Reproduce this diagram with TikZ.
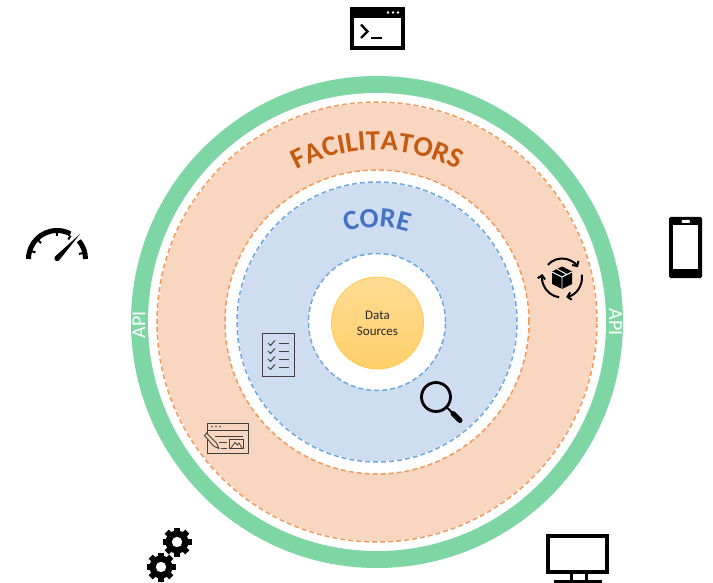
\documentclass[tikz,border=0pt]{standalone}
\usepackage{fontspec}
\setmainfont{Carlito}
\usetikzlibrary{arrows.meta,decorations.text,calc}
\definecolor{ringgreen}{HTML}{7FD6A5}
\definecolor{facfill}{HTML}{F8D6BF}
\definecolor{facline}{HTML}{F09A5E}
\definecolor{facText}{HTML}{C55A11}
\definecolor{corefill}{HTML}{CFDDF1}
\definecolor{coreline}{HTML}{6FA8DC}
\definecolor{coreText}{HTML}{4472C4}
\definecolor{iconline}{HTML}{404040}
\definecolor{datatop}{HTML}{FFDB94}
\definecolor{databot}{HTML}{FFCF68}
\definecolor{dataline}{HTML}{FFC94F}
\tikzset{
  ring/.style={circle,inner sep=0pt,outer sep=0pt,minimum size=#1},
  dashline/.style={dash pattern=on 5pt off 3pt,line width=1.5pt},
  apilabel/.style={text=white,font=\fontsize{20}{20}\selectfont,inner sep=0pt},
  thinicon/.style={draw=iconline,line width=1pt},
  gearpic/.pic={
    \fill[black] (0,0) circle[radius=11.5];
    \foreach \a in {0,45,...,315}
      \draw[black,line width=6pt] (\a:10) -- (\a:14.5);
    \fill[white] (0,0) circle[radius=5.2];
  }
}
\begin{document}
\begin{tikzpicture}[x=1pt,y=-1pt]
\useasboundingbox[fill=white] (0,0) rectangle (713,583);
\coordinate (c) at (377,322);
% rings
\node[ring=492,fill=ringgreen] (outer) at (c) {};
\node[ring=458,fill=white] (gap) at (c) {};
\node[ring=440,fill=facfill,draw=white,line width=1.5pt] (facbase) at (c) {};
\node[ring=440,draw=facline,dashline] (fac) at (c) {};
\node[ring=304,fill=white,draw=facline,dashline] (facinner) at (c) {};
\node[ring=280,fill=corefill,draw=white,line width=1.5pt] (corebase) at (c) {};
\node[ring=280,draw=coreline,dashline] (core) at (c) {};
\node[ring=137,fill=white,draw=coreline,dashline] (coreinner) at (c) {};
\node[ring=92,top color=datatop,bottom color=databot,draw=dataline,line width=.8pt,align=center,
  font=\fontsize{13}{16}\selectfont,text=black!85] (data) at (377.5,323) {Data\\Sources};
% curved labels
\path[postaction={decorate,decoration={text along path,text align={align=center},
   text={|\fontsize{28.5}{29}\selectfont\bfseries\color{facText}|FACILITATORS}}}]
   ($(c)+(-140:172)$) arc[start angle=-140,end angle=-40,radius=172];
\path[postaction={decorate,decoration={text along path,text align={align=center},
   text={|\fontsize{28}{28}\selectfont\bfseries\color{coreText}|CORE}}}]
   ($(c)+(-135:95)$) arc[start angle=-135,end angle=-45,radius=95];
\node[apilabel,rotate=90] (apil) at (139,325) {API};
\node[apilabel,rotate=-90] (apir) at (615.5,322) {API};
% terminal
\fill[black] (350,7) rectangle (405,50);
\fill[white] (354,18) rectangle (401,46);
\foreach \x in {388,393,398} \fill[white] (\x,12.5) circle[radius=1.4];
\draw[black,line width=2.4pt] (361,24.5) -- (367.5,31.5) -- (361,38);
\draw[black,line width=2.4pt] (371,38) -- (382,38);
% gauge
\draw[black,line width=5pt] (28.5,259) arc[start angle=180,end angle=298,radius=28.5];
\draw[black,line width=5pt] (85.5,259) arc[start angle=360,end angle=320,radius=28.5];
\foreach \a in {197,225,270,300,347} \draw[black,line width=2pt] ($(57,259)+(\a:27)$) -- ($(57,259)+(\a:22.5)$);
\fill[black] (80,234) -- (59,260.5) arc[start angle=50,end angle=230,radius=2.8] -- cycle;
% phone
\fill[black,rounded corners=1.5pt] (669,217) rectangle (702,278);
\fill[white] (673,225) rectangle (698,269);
\fill[white,rounded corners=1pt] (681.5,220) rectangle (690,223);
% rotating box
\begin{scope}[shift={(562,277.5)}]
  \draw[black,line width=2pt,-{Straight Barb[length=3.5pt,width=7.5pt]}] (-138:19) arc[start angle=-138,end angle=-33,radius=19];
  \draw[black,line width=2pt,-{Straight Barb[length=3.5pt,width=7.5pt]}] (-8:20) arc[start angle=-8,end angle=78,radius=20];
  \draw[black,line width=2pt,-{Straight Barb[length=3.5pt,width=7.5pt]}] (98:20) arc[start angle=98,end angle=190,radius=20];
  \fill[black] (0,-11) -- (10,-6) -- (10,6.5) -- (0,11.5) -- (-10,6.5) -- (-10,-6) -- cycle;
  \draw[white,line width=.9pt] (-10,-5.5) -- (0,-0.5) -- (10,-5.5) (0,-0.5) -- (0,11.5) (-5,-8.5) -- (5,-3);
\end{scope}
% checklist
\draw[thinicon] (262,333.5) rectangle (294,376);
\foreach \y in {343,351,359,367}{
  \draw[iconline,line width=1pt] (268,\y) -- (270.5,\y+2.5) -- (275,\y-2.5);
  \draw[iconline,line width=1pt] (279,\y) -- (289,\y);
}
% web editor
\draw[thinicon] (207.5,423) rectangle (248,453);
\draw[thinicon] (207.5,430) -- (248,430);
\foreach \x in {212,216,220} \fill[iconline] (\x,426.5) circle[radius=.9];
\draw[thinicon] (215,436) -- (243,436) (219,442) -- (227,442) (221,448) -- (227,448);
\draw[thinicon] (229.5,439.5) rectangle (243,448);
\draw[iconline,line width=.8pt] (231,448) -- (235,442.5) -- (237.5,445) -- (239,443) -- (242,448);
\draw[iconline,line width=.9pt,fill=facfill] (204.5,435.5) -- (206.5,433) -- (216.5,443) -- (219,448.5) -- (213.5,446) -- cycle;
% gears
\pic at (177,542) {gearpic};
\pic at (161,567) {gearpic};
% monitor
\draw[black,line width=4pt] (548,536) rectangle (607,572);
\draw[black,line width=3pt] (571.5,574) -- (571.5,580) (586.5,574) -- (586.5,580);
\draw[black,line width=3pt] (554,581) -- (602,581);
% magnifier
\draw[black,line width=2.8pt] (436,397) circle[radius=14.5];
\draw[black,line width=2pt] (446.5,407) -- (452,412.5);
\draw[black,line width=5pt,line cap=round] (453,413.5) -- (460,420.5);
\end{tikzpicture}
\end{document}
